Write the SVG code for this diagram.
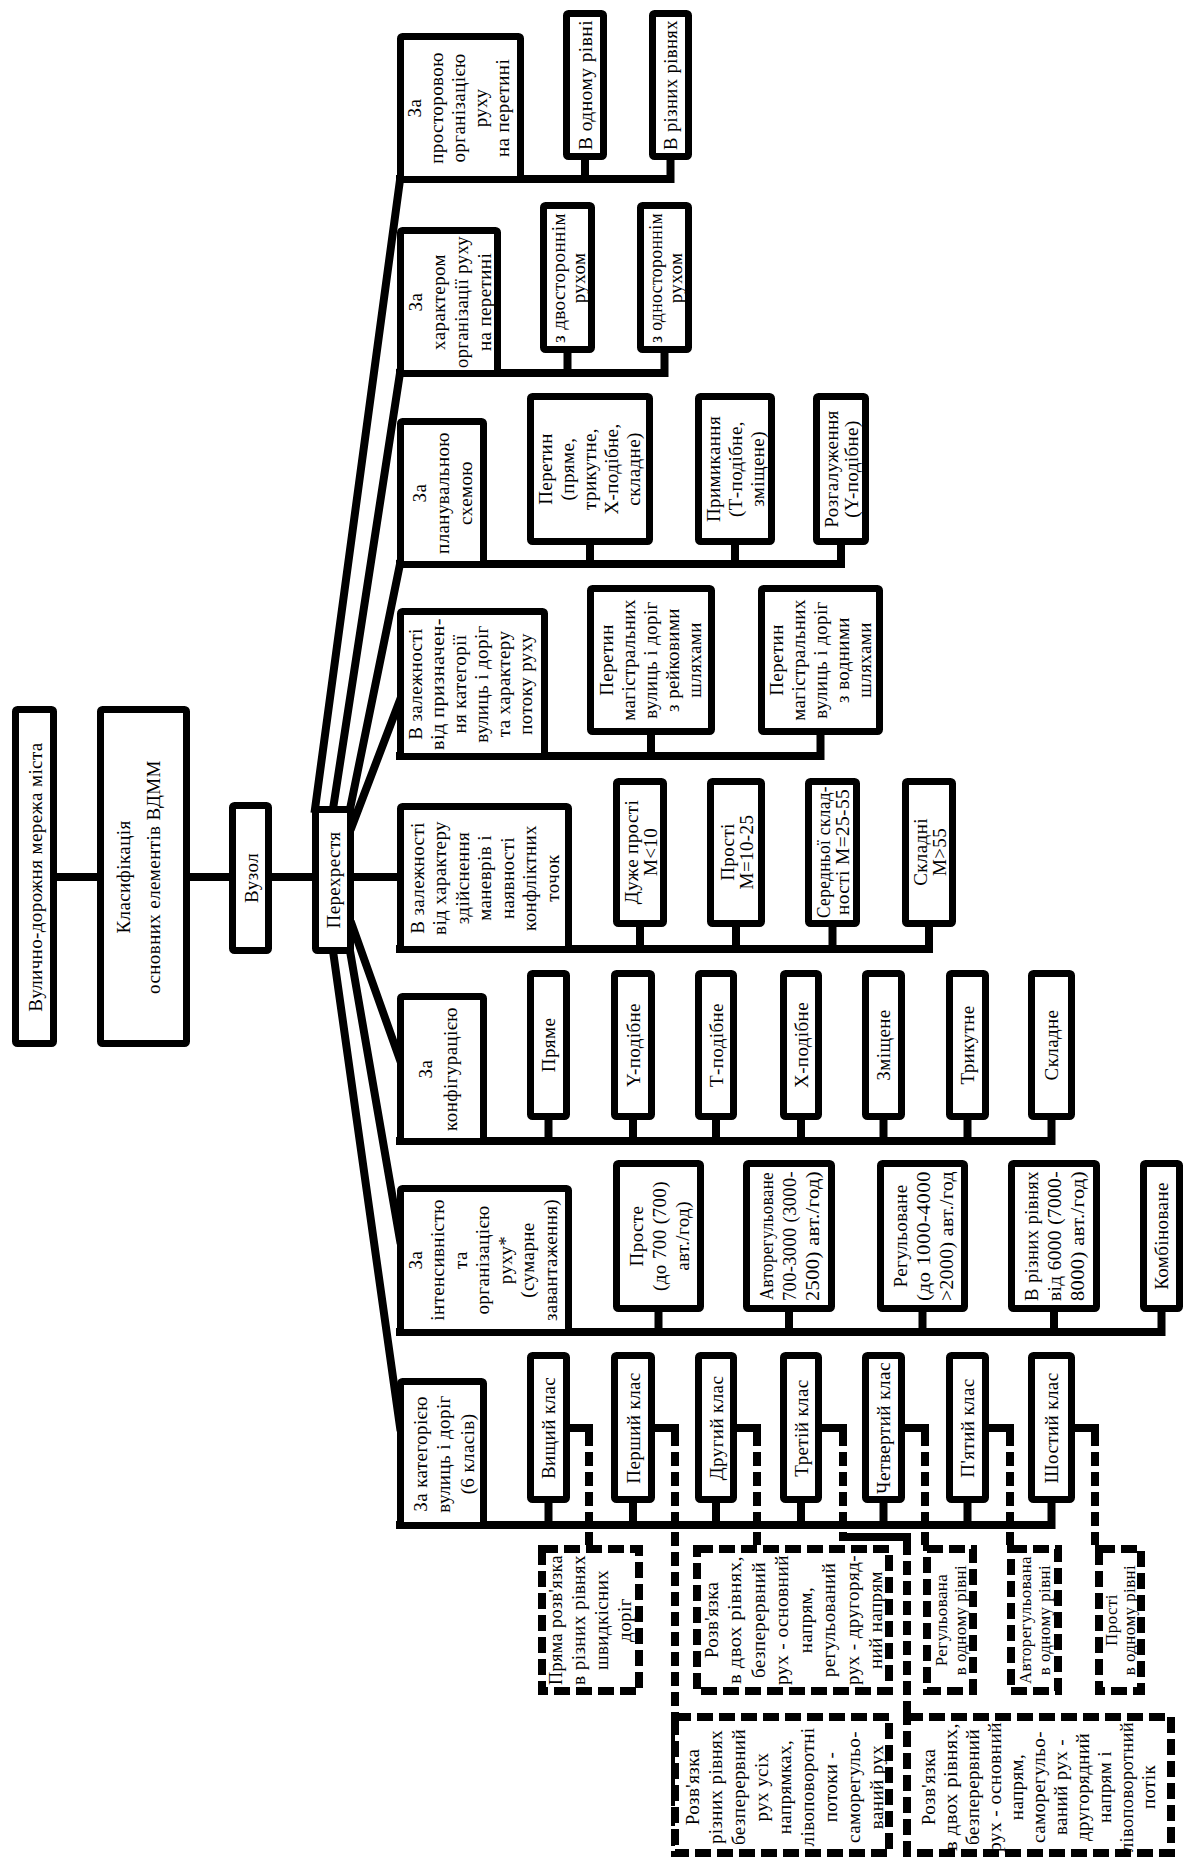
<svg xmlns="http://www.w3.org/2000/svg" width="1186" height="1861" viewBox="0 0 1186 1861">
<style>
.b{fill:#fff;stroke:#000;stroke-width:7}
.d{fill:#fff;stroke:#000;stroke-width:8;stroke-dasharray:16 6}
.l{fill:none;stroke:#000;stroke-width:8;stroke-linecap:square}
.dl{fill:none;stroke:#000;stroke-width:8;stroke-dasharray:14 6}
text{font-family:"Liberation Serif","Times New Roman",serif;font-size:19px;text-anchor:middle;dominant-baseline:central;letter-spacing:0.4px;fill:#000}
.s{font-size:17px}
</style>
<rect width="1186" height="1861" fill="#fff"/>
<g id="connectors">
<path class="l" d="M57,877 H397"/>
<path class="l" d="M315,809 L400,180 M333,809 L400,373 M350,809 L400,564 M352,826 L400,700 M352,925 L400,1060 M350,951 L400,1240 M333,951 L400,1427"/>
<path class="l" d="M400,179 H670.5 M585,179 V158 M670.5,179 V158"/>
<path class="l" d="M400,373 H664.5 M567.5,373 V351 M664.5,373 V351"/>
<path class="l" d="M400,564 H841 M590,564 V543 M735,564 V543 M841,564 V543"/>
<path class="l" d="M400,756 H820.5 M651,756 V733 M820.5,756 V733"/>
<path class="l" d="M400,949 H929 M640,949 V925 M736,949 V925 M832.5,949 V925 M929,949 V925"/>
<path class="l" d="M400,1141 H1051.5 M548.5,1141 V1118 M633,1141 V1118 M716,1141 V1118 M801,1141 V1118 M883.5,1141 V1118 M967.5,1141 V1118 M1051.5,1141 V1118"/>
<path class="l" d="M400,1332 H1161.5 M658.5,1332 V1310 M789,1332 V1310 M922.5,1332 V1310 M1054,1332 V1310 M1161.5,1332 V1310"/>
<path class="l" d="M400,1525 H1051.5 M548.5,1525 V1501 M633,1525 V1501 M716,1525 V1501 M801,1525 V1501 M883.5,1525 V1501 M967.5,1525 V1501 M1051.5,1525 V1501"/>
<path class="l" d="M570,1428 H589 M655,1428 H675 M737,1428 H757 M822,1428 H843 M905,1428 H925 M989,1428 H1010 M1075,1428 H1095 M843,1537 H907"/>
<path class="dl" d="M589,1432 V1545 M675,1432 V1857 M757,1432 V1545 M843,1432 V1537 M907,1541 V1713 M925,1432 V1545 M1010,1432 V1545 M1095,1432 V1545"/>
</g>
<g id="n_root"><rect class="b" x="15.5" y="709.5" width="38" height="334" rx="2"/><text transform="translate(35,877) rotate(-90)">Вулично-дорожня мережа міста</text></g>
<g id="n_klas"><rect class="b" x="100.5" y="709.5" width="86" height="334" rx="2"/><text transform="translate(138,877) rotate(-90)"><tspan x="0" y="-15">Класифікація</tspan><tspan x="0" y="15">основних елементів ВДММ</tspan></text></g>
<g id="n_vuzol"><rect class="b" x="232.5" y="805.5" width="36" height="145" rx="2"/><text transform="translate(251,878) rotate(-90)">Вузол</text></g>
<g id="n_perekh"><rect class="b" x="315.5" y="809.5" width="35" height="141" rx="2"/><text transform="translate(333,880) rotate(-90)">Перехрестя</text></g>

<g id="h1"><rect class="b" x="400.5" y="36.5" width="120" height="143" rx="2"/><text transform="translate(458,108) rotate(-90)"><tspan x="0" y="-44">За</tspan><tspan x="0" y="-22">просторовою</tspan><tspan x="0" y="0">організацією</tspan><tspan x="0" y="22">руху</tspan><tspan x="0" y="44">на перетині</tspan></text></g>
<g id="h2"><rect class="b" x="400.5" y="230.5" width="97" height="143" rx="2"/><text transform="translate(449,302) rotate(-90)"><tspan x="0" y="-34.5">За</tspan><tspan x="0" y="-11.5">характером</tspan><tspan x="0" y="11.5" textLength="132" lengthAdjust="spacingAndGlyphs">організації руху</tspan><tspan x="0" y="34.5">на перетині</tspan></text></g>
<g id="h3"><rect class="b" x="400.5" y="421.5" width="83" height="143" rx="2"/><text transform="translate(442,493) rotate(-90)"><tspan x="0" y="-23">За</tspan><tspan x="0" y="0">планувальною</tspan><tspan x="0" y="23">схемою</tspan></text></g>
<g id="h4"><rect class="b" x="400.5" y="611.5" width="144" height="145" rx="2"/><text transform="translate(470,684) rotate(-90)"><tspan x="0" y="-55">В залежності</tspan><tspan x="0" y="-33" textLength="132" lengthAdjust="spacingAndGlyphs">від призначен-</tspan><tspan x="0" y="-11">ня категорії</tspan><tspan x="0" y="11">вулиць і доріг</tspan><tspan x="0" y="33">та характеру</tspan><tspan x="0" y="55">потоку руху</tspan></text></g>
<g id="h5"><rect class="b" x="400.5" y="806.5" width="168" height="143" rx="2"/><text transform="translate(484,878) rotate(-90)"><tspan x="0" y="-67.5">В залежності</tspan><tspan x="0" y="-45">від характеру</tspan><tspan x="0" y="-22.5">здійснення</tspan><tspan x="0" y="0">маневрів і</tspan><tspan x="0" y="22.5">наявності</tspan><tspan x="0" y="45">конфліктних</tspan><tspan x="0" y="67.5">точок</tspan></text></g>
<g id="h6"><rect class="b" x="400.5" y="996.5" width="83" height="145" rx="2"/><text transform="translate(437,1069) rotate(-90)"><tspan x="0" y="-12.5">За</tspan><tspan x="0" y="12.5">конфігурацією</tspan></text></g>
<g id="h7"><rect class="b" x="400.5" y="1188.5" width="168" height="144" rx="2"/><text transform="translate(482,1260) rotate(-90)"><tspan x="0" y="-67.5">За</tspan><tspan x="0" y="-45">інтенсивністю</tspan><tspan x="0" y="-22.5">та</tspan><tspan x="0" y="0">організацією</tspan><tspan x="0" y="22.5">руху*</tspan><tspan x="0" y="45">(сумарне</tspan><tspan x="0" y="67.5">завантаження)</tspan></text></g>
<g id="h8"><rect class="b" x="400.5" y="1381.5" width="83" height="144" rx="2"/><text transform="translate(443,1454) rotate(-90)"><tspan x="0" y="-23.5">За категорією</tspan><tspan x="0" y="0">вулиць і доріг</tspan><tspan x="0" y="23.5">(6 класів)</tspan></text></g>

<g id="c1a"><rect class="b" x="566.5" y="13.5" width="37" height="143" rx="2"/><text transform="translate(585,85) rotate(-90)" textLength="130" lengthAdjust="spacingAndGlyphs">В одному рівні</text></g>
<g id="c1b"><rect class="b" x="652.5" y="13.5" width="36" height="143" rx="2"/><text transform="translate(670.5,85) rotate(-90)" textLength="130" lengthAdjust="spacingAndGlyphs">В різних рівнях</text></g>
<g id="c2a"><rect class="b" x="543.5" y="205.5" width="48" height="144" rx="2"/><text transform="translate(567.5,278) rotate(-90)"><tspan x="0" y="-10" textLength="130" lengthAdjust="spacingAndGlyphs">з двостороннім</tspan><tspan x="0" y="10">рухом</tspan></text></g>
<g id="c2b"><rect class="b" x="640.5" y="205.5" width="48" height="144" rx="2"/><text transform="translate(664.5,278) rotate(-90)"><tspan x="0" y="-10" textLength="130" lengthAdjust="spacingAndGlyphs">з одностороннім</tspan><tspan x="0" y="10">рухом</tspan></text></g>
<g id="c3a"><rect class="b" x="530.5" y="396.5" width="119" height="145" rx="2"/><text transform="translate(589,469) rotate(-90)"><tspan x="0" y="-44">Перетин</tspan><tspan x="0" y="-22">(пряме,</tspan><tspan x="0" y="0">трикутне,</tspan><tspan x="0" y="22">X-подібне,</tspan><tspan x="0" y="44">складне)</tspan></text></g>
<g id="c3b"><rect class="b" x="698.5" y="396.5" width="73" height="145" rx="2"/><text transform="translate(735,469) rotate(-90)"><tspan x="0" y="-22">Примикання</tspan><tspan x="0" y="0">(Т-подібне,</tspan><tspan x="0" y="22">зміщене)</tspan></text></g>
<g id="c3c"><rect class="b" x="816.5" y="396.5" width="49" height="145" rx="2"/><text transform="translate(841,469) rotate(-90)"><tspan x="0" y="-10">Розгалуження</tspan><tspan x="0" y="10">(Y-подібне)</tspan></text></g>
<g id="c4a"><rect class="b" x="590.5" y="588.5" width="121" height="143" rx="2"/><text transform="translate(650,660) rotate(-90)"><tspan x="0" y="-44">Перетин</tspan><tspan x="0" y="-22">магістральних</tspan><tspan x="0" y="0">вулиць і доріг</tspan><tspan x="0" y="22">з рейковими</tspan><tspan x="0" y="44">шляхами</tspan></text></g>
<g id="c4b"><rect class="b" x="761.5" y="588.5" width="118" height="143" rx="2"/><text transform="translate(820,660) rotate(-90)"><tspan x="0" y="-44">Перетин</tspan><tspan x="0" y="-22">магістральних</tspan><tspan x="0" y="0">вулиць і доріг</tspan><tspan x="0" y="22">з водними</tspan><tspan x="0" y="44">шляхами</tspan></text></g>
<g id="c5a"><rect class="b" x="616.5" y="781.5" width="47" height="142" rx="2"/><text transform="translate(640,852) rotate(-90)"><tspan x="0" y="-9.5">Дуже прості</tspan><tspan x="0" y="9.5">M&lt;10</tspan></text></g>
<g id="c5b"><rect class="b" x="710.5" y="781.5" width="51" height="142" rx="2"/><text transform="translate(736,852) rotate(-90)"><tspan x="0" y="-9.5">Прості</tspan><tspan x="0" y="9.5">M=10-25</tspan></text></g>
<g id="c5c"><rect class="b" x="808.5" y="781.5" width="48" height="142" rx="2"/><text transform="translate(832.5,852) rotate(-90)"><tspan x="0" y="-9.5" textLength="132" lengthAdjust="spacingAndGlyphs">Середньої склад-</tspan><tspan x="0" y="9.5" textLength="126" lengthAdjust="spacingAndGlyphs">ності M=25-55</tspan></text></g>
<g id="c5d"><rect class="b" x="905.5" y="781.5" width="47" height="142" rx="2"/><text transform="translate(929,852) rotate(-90)"><tspan x="0" y="-9.5">Складні</tspan><tspan x="0" y="9.5">M&gt;55</tspan></text></g>

<g id="c6a"><rect class="b" x="530.5" y="973.5" width="36" height="143" rx="2"/><text transform="translate(548.5,1045) rotate(-90)">Пряме</text></g>
<g id="c6b"><rect class="b" x="614.5" y="973.5" width="37" height="143" rx="2"/><text transform="translate(633,1045) rotate(-90)">Y-подібне</text></g>
<g id="c6c"><rect class="b" x="698.5" y="973.5" width="35" height="143" rx="2"/><text transform="translate(716,1045) rotate(-90)">Т-подібне</text></g>
<g id="c6d"><rect class="b" x="783.5" y="973.5" width="35" height="143" rx="2"/><text transform="translate(801,1045) rotate(-90)">X-подібне</text></g>
<g id="c6e"><rect class="b" x="865.5" y="973.5" width="36" height="143" rx="2"/><text transform="translate(883.5,1045) rotate(-90)">Зміщене</text></g>
<g id="c6f"><rect class="b" x="949.5" y="973.5" width="36" height="143" rx="2"/><text transform="translate(967.5,1045) rotate(-90)">Трикутне</text></g>
<g id="c6g"><rect class="b" x="1031.5" y="973.5" width="40" height="143" rx="2"/><text transform="translate(1051.5,1045) rotate(-90)">Складне</text></g>

<g id="c7a"><rect class="b" x="616.5" y="1163.5" width="84" height="145" rx="2"/><text transform="translate(658.5,1236) rotate(-90)"><tspan x="0" y="-23">Просте</tspan><tspan x="0" y="0">(до 700 (700)</tspan><tspan x="0" y="23">авт./год)</tspan></text></g>
<g id="c7b"><rect class="b" x="746.5" y="1163.5" width="85" height="145" rx="2"/><text transform="translate(789,1236) rotate(-90)"><tspan x="0" y="-23" textLength="128" lengthAdjust="spacingAndGlyphs">Авторегульоване</tspan><tspan x="0" y="0" textLength="130" lengthAdjust="spacingAndGlyphs">700-3000 (3000-</tspan><tspan x="0" y="23" textLength="130" lengthAdjust="spacingAndGlyphs">2500) авт./год)</tspan></text></g>
<g id="c7c"><rect class="b" x="880.5" y="1163.5" width="84" height="145" rx="2"/><text transform="translate(922.5,1236) rotate(-90)"><tspan x="0" y="-23">Регульоване</tspan><tspan x="0" y="0" textLength="130" lengthAdjust="spacingAndGlyphs">(до 1000-4000</tspan><tspan x="0" y="23" textLength="130" lengthAdjust="spacingAndGlyphs">&gt;2000) авт./год</tspan></text></g>
<g id="c7d"><rect class="b" x="1011.5" y="1163.5" width="85" height="145" rx="2"/><text transform="translate(1054,1236) rotate(-90)"><tspan x="0" y="-23" textLength="130" lengthAdjust="spacingAndGlyphs">В різних рівнях</tspan><tspan x="0" y="0" textLength="130" lengthAdjust="spacingAndGlyphs">від 6000 (7000-</tspan><tspan x="0" y="23" textLength="130" lengthAdjust="spacingAndGlyphs">8000) авт./год)</tspan></text></g>
<g id="c7e"><rect class="b" x="1143.5" y="1163.5" width="36" height="145" rx="2"/><text transform="translate(1161.5,1236) rotate(-90)">Комбіноване</text></g>

<g id="c8a"><rect class="b" x="530.5" y="1355.5" width="36" height="144" rx="2"/><text transform="translate(548.5,1428) rotate(-90)">Вищий клас</text></g>
<g id="c8b"><rect class="b" x="614.5" y="1355.5" width="37" height="144" rx="2"/><text transform="translate(633,1428) rotate(-90)">Перший клас</text></g>
<g id="c8c"><rect class="b" x="698.5" y="1355.5" width="35" height="144" rx="2"/><text transform="translate(716,1428) rotate(-90)">Другий клас</text></g>
<g id="c8d"><rect class="b" x="783.5" y="1355.5" width="35" height="144" rx="2"/><text transform="translate(801,1428) rotate(-90)">Третій клас</text></g>
<g id="c8e"><rect class="b" x="865.5" y="1355.5" width="36" height="144" rx="2"/><text transform="translate(883.5,1428) rotate(-90)" textLength="132" lengthAdjust="spacingAndGlyphs">Четвертий клас</text></g>
<g id="c8f"><rect class="b" x="949.5" y="1355.5" width="36" height="144" rx="2"/><text transform="translate(967.5,1428) rotate(-90)">П'ятий клас</text></g>
<g id="c8g"><rect class="b" x="1031.5" y="1355.5" width="40" height="144" rx="2"/><text transform="translate(1051.5,1428) rotate(-90)">Шостий клас</text></g>

<g id="d1"><rect class="d" x="542" y="1549" width="97" height="142"/><text transform="translate(589,1620) rotate(-90)"><tspan x="0" y="-34.5" textLength="130" lengthAdjust="spacingAndGlyphs">Пряма розв'язка</tspan><tspan x="0" y="-11.5" textLength="130" lengthAdjust="spacingAndGlyphs">в різних рівнях</tspan><tspan x="0" y="11.5">швидкісних</tspan><tspan x="0" y="34.5">доріг</tspan></text></g>
<g id="d2"><rect class="d" x="697" y="1549" width="192" height="142"/><text transform="translate(793,1620) rotate(-90)"><tspan x="0" y="-82.25">Розв'язка</tspan><tspan x="0" y="-58.75" textLength="128" lengthAdjust="spacingAndGlyphs">в двох рівнях,</tspan><tspan x="0" y="-35.25">безперервний</tspan><tspan x="0" y="-11.75" textLength="130" lengthAdjust="spacingAndGlyphs">рух - основний</tspan><tspan x="0" y="11.75">напрям,</tspan><tspan x="0" y="35.25">регульований</tspan><tspan x="0" y="58.75" textLength="130" lengthAdjust="spacingAndGlyphs">рух - другоряд-</tspan><tspan x="0" y="82.25">ний напрям</tspan></text></g>
<g id="d3"><rect class="d" x="927" y="1549" width="46" height="142"/><text class="s" transform="translate(950,1620) rotate(-90)"><tspan x="0" y="-9.5">Регульована</tspan><tspan x="0" y="9.5">в одному рівні</tspan></text></g>
<g id="d4"><rect class="d" x="1011" y="1549" width="47" height="142"/><text class="s" transform="translate(1034.5,1620) rotate(-90)"><tspan x="0" y="-9.5" textLength="128" lengthAdjust="spacingAndGlyphs">Авторегульована</tspan><tspan x="0" y="9.5">в одному рівні</tspan></text></g>
<g id="d5"><rect class="d" x="1099" y="1549" width="42" height="142"/><text class="s" transform="translate(1120,1620) rotate(-90)"><tspan x="0" y="-9">Прості</tspan><tspan x="0" y="9">в одному рівні</tspan></text></g>
<g id="d6"><rect class="d" x="675" y="1717" width="214" height="136"/><text transform="translate(784,1787) rotate(-90)"><tspan x="0" y="-92">Розв'язка</tspan><tspan x="0" y="-69">різних рівнях</tspan><tspan x="0" y="-46">безперервний</tspan><tspan x="0" y="-23">рух усіх</tspan><tspan x="0" y="0">напрямках,</tspan><tspan x="0" y="23">лівоповоротні</tspan><tspan x="0" y="46">потоки -</tspan><tspan x="0" y="69">саморегульо-</tspan><tspan x="0" y="92">ваний рух</tspan></text></g>
<g id="d7"><rect class="d" x="907" y="1717" width="264" height="136"/><text transform="translate(1038,1787) rotate(-90)"><tspan x="0" y="-110">Розв'язка</tspan><tspan x="0" y="-88" textLength="128" lengthAdjust="spacingAndGlyphs">в двох рівнях,</tspan><tspan x="0" y="-66">безперервний</tspan><tspan x="0" y="-44" textLength="130" lengthAdjust="spacingAndGlyphs">рух - основний</tspan><tspan x="0" y="-22">напрям,</tspan><tspan x="0" y="0">саморегульо-</tspan><tspan x="0" y="22">ваний рух -</tspan><tspan x="0" y="44">другорядний</tspan><tspan x="0" y="66">напрям і</tspan><tspan x="0" y="88" textLength="130" lengthAdjust="spacingAndGlyphs">лівоповоротний</tspan><tspan x="0" y="110">потік</tspan></text></g>
</svg>
